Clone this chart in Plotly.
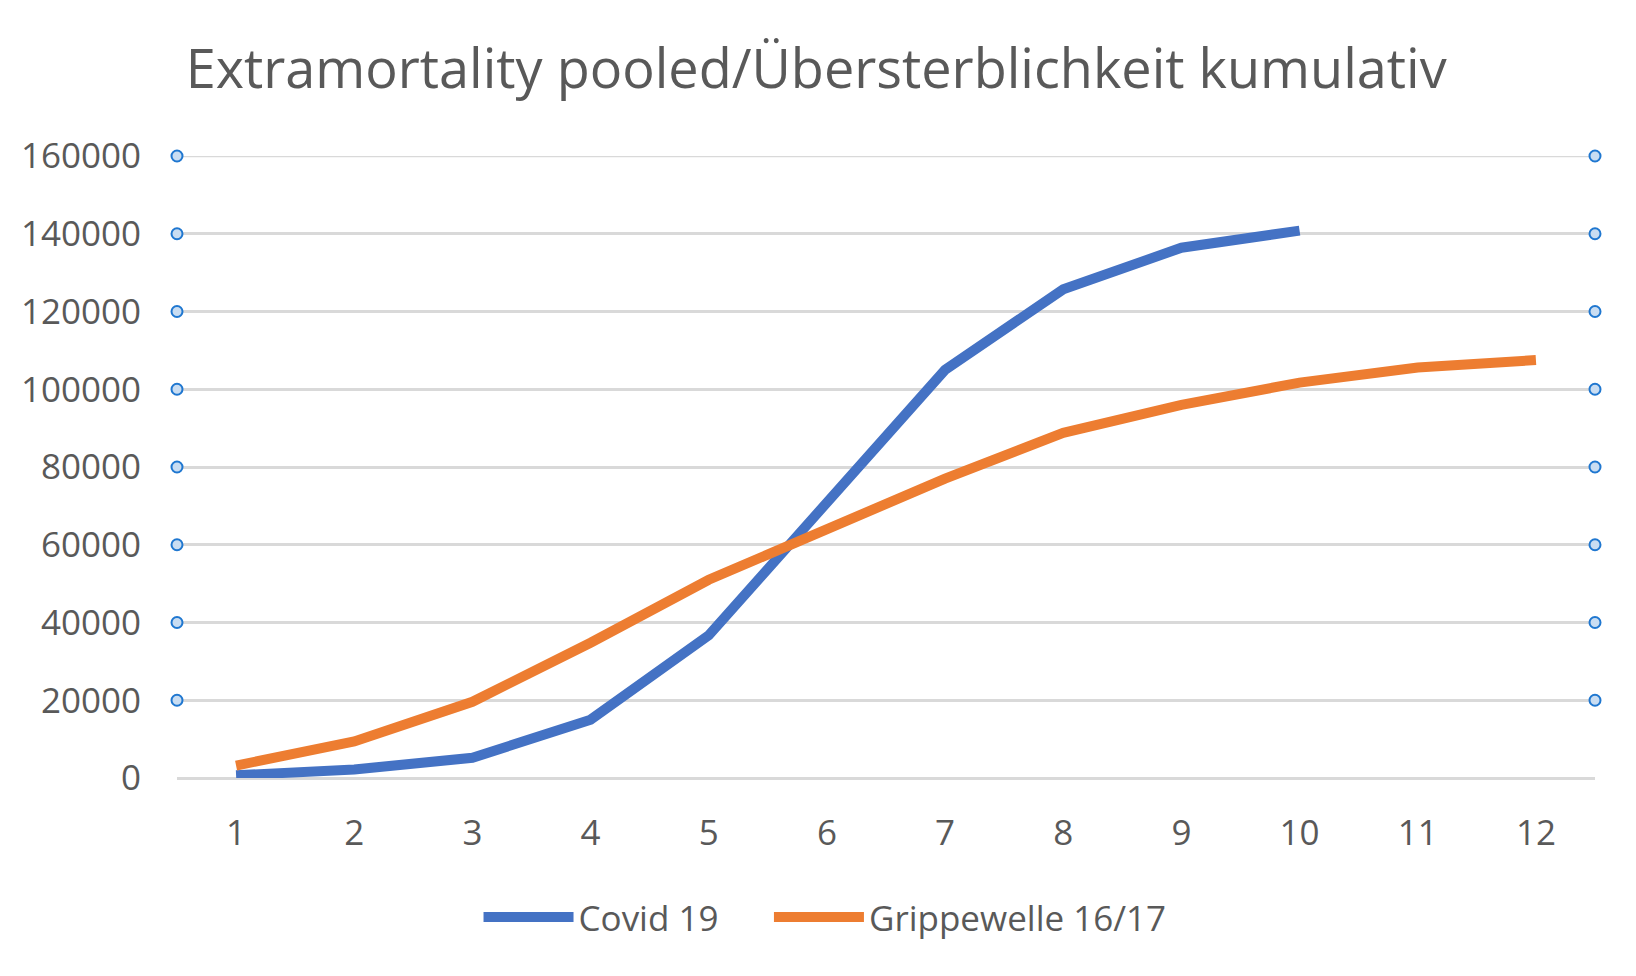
import plotly.graph_objects as go

# weeks (categories on the x axis)
weeks = list(range(1, 13))

# cumulative extra deaths
covid_19 = [700, 2200, 5200, 15000, 36700, 70500, 105000, 125700, 136400, 140800]
grippe_16_17 = [3200, 9400, 19600, 34800, 51000, 64000, 77000, 88800, 96000, 101700, 105600, 107500]

# y axis ticks
y_ticks = [0, 20000, 40000, 60000, 80000, 100000, 120000, 140000, 160000]

font = "Open Sans"
grey = "#595959"
grid = "#D9D9D9"
pad = "\u00a0" * 5  # extra room between the two legend entries

fig = go.Figure()
fig.add_trace(go.Scatter(x=weeks[:len(covid_19)], y=covid_19, name="Covid 19" + pad, mode="lines",
                         line=dict(color="#4472C4", width=10)))
fig.add_trace(go.Scatter(x=weeks, y=grippe_16_17, name="Grippewelle 16/17", mode="lines",
                         line=dict(color="#ED7D31", width=10)))

# the little blue handles at both ends of each gridline
handle_y = y_ticks[1:]
for edge in (weeks[0] - 0.5, weeks[-1] + 0.5):
    fig.add_trace(go.Scatter(x=[edge] * len(handle_y), y=handle_y, mode="markers",
                             showlegend=False, hoverinfo="skip", cliponaxis=False,
                             marker=dict(size=11, color="#C9DDF2",
                                         line=dict(color="#1F77D0", width=2))))

# top gridline (plotly skips the one sitting on the range edge)
fig.add_hline(y=y_ticks[-1], line=dict(color=grid, width=2.5), layer="below")

fig.update_layout(
    width=1636, height=976,
    paper_bgcolor="white", plot_bgcolor="white",
    margin=dict(l=169, r=49, t=148, b=206),
    font=dict(family=font, color=grey, size=35),
    title=dict(text="Extramortality pooled/Übersterblichkeit kumulativ",
               x=0.494, xanchor="center", y=0.937, yanchor="middle",
               font=dict(size=54, color=grey, family=font)),
    showlegend=True,
    legend=dict(orientation="h", x=0.457, xanchor="center", y=-0.224, yanchor="middle",
                font=dict(size=35, color=grey), itemwidth=90, traceorder="normal"),
)
fig.update_xaxes(
    tickmode="array", tickvals=weeks, ticktext=[str(w) for w in weeks],
    range=[weeks[0] - 0.5, weeks[-1] + 0.5],
    showgrid=False, zeroline=False, showline=False,
    ticks="outside", ticklen=24, tickcolor="rgba(0,0,0,0)",
)
fig.update_yaxes(
    tickmode="array", tickvals=y_ticks, ticktext=[str(v) for v in y_ticks],
    range=[0, 160000],
    showgrid=True, gridcolor=grid, gridwidth=2.5,
    zeroline=True, zerolinecolor=grid, zerolinewidth=2.5,
    showline=False, ticks="outside", ticklen=28, tickcolor="rgba(0,0,0,0)",
)

fig.write_html("out.html")
